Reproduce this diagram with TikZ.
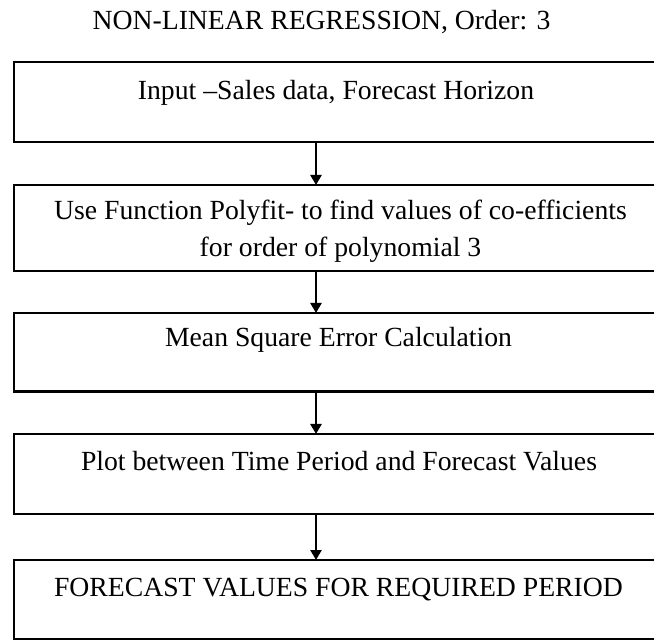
\documentclass[tikz,border=0pt]{standalone}
\usepackage{fontspec}
\setmainfont{Liberation Serif}
\usetikzlibrary{arrows.meta}
\tikzset{
  flowbox/.style={draw=black, line width=2.6pt, rectangle, inner sep=0pt, outer sep=0pt, minimum width=648pt},
  boxtext/.style={anchor=base, inner sep=0pt, font=\fontsize{27.7}{36.7}\selectfont, align=center},
  flowarrow/.style={draw=black, line width=2.8pt, -{Triangle[width=11pt,length=10pt]}}
}
\begin{document}
\begin{tikzpicture}[x=1pt,y=1pt]
\useasboundingbox (0,0) rectangle (654,641);
\clip (0,0) rectangle (654,641);

% title
\node[boxtext] (title) at (321.5,611) {NON-LINEAR REGRESSION, Order: 3};

% process boxes
\node[flowbox, minimum height=80pt]   (b1) at (338,539) {};
\node[flowbox, minimum height=86pt]   (b2) at (338,413) {};
\node[flowbox, minimum height=78.5pt] (b3) at (338,288.75) {};
\node[flowbox, minimum height=80pt]   (b4) at (338,167) {};
\node[flowbox, minimum height=79pt]   (b5) at (338,41.5) {};

% box labels (a multi-line node sits on the baseline of its last line)
\node[boxtext] (t1) at (336,541.7) {Input –Sales data, Forecast Horizon};
\node[boxtext] (t2) at (340.5,384.3) {Use Function Polyfit- to find values of co-efficients\\for order of polynomial 3};
\node[boxtext] (t3) at (338.5,294.3) {Mean Square Error Calculation};
\node[boxtext] (t4) at (339,171) {Plot between Time Period and Forecast Values};
\node[boxtext] (t5) at (338.5,45) {FORECAST VALUES FOR REQUIRED PERIOD};

% connectors
\coordinate (ax) at (316,0);
\draw[flowarrow] (b1.south -| ax) -- (b2.north -| ax);
\draw[flowarrow] (b2.south -| ax) -- (b3.north -| ax);
\draw[flowarrow] (b3.south -| ax) -- (b4.north -| ax);
\draw[flowarrow] (b4.south -| ax) -- (b5.north -| ax);
\end{tikzpicture}
\end{document}
